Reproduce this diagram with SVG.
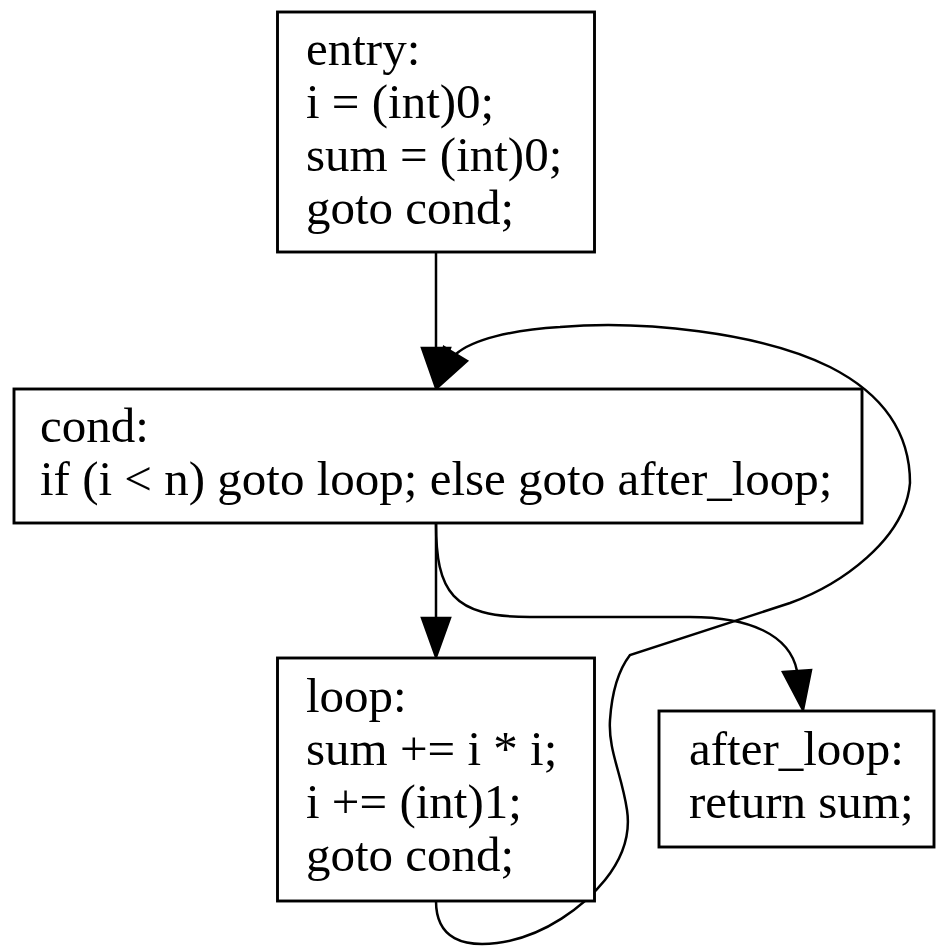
<svg xmlns="http://www.w3.org/2000/svg" width="936" height="947" viewBox="0 0 936 947">
<style>
.box{fill:#fff;stroke:#000;stroke-width:2.9}
.t{font-family:"Liberation Serif","Times New Roman",serif;font-size:49px;fill:#000}
.e{fill:none;stroke:#000;stroke-width:2.5}
.ah{fill:#000;stroke:#000;stroke-width:2.5;stroke-linejoin:miter}
</style>
<rect width="936" height="947" fill="#fff"/>
<g id="edges">
<path class="e" d="M436,252 L436,348"/>
<polygon class="ah" points="422,348 450,348 436,388"/>
<path class="e" d="M436,523 L436,618"/>
<polygon class="ah" points="422,618 450,618 436,657"/>
<path class="e" d="M436,523 C436,592 452,617 530,617 L690,617 C750,617 790,635 797,671"/>
<polygon class="ah" points="783,672 811,670 803,710"/>
<path class="e" d="M436,901 C436,940 465,947 497,943 C545,937 585,905 605,880 C625,855 630,830 627,810 C622,775 608,750 610,720 C612,690 620,668 630,655 L790,603 C840,585 905,540 910,483 C910,435 885,395 830,367 C760,332 640,320 560,327 C510,330 472,340 456,354"/>
<polygon class="ah" points="444,347 467,361 437,388"/>
</g>
<g id="entry">
<rect class="box" x="277.5" y="12" width="317" height="240"/>
<text class="t" x="306" y="65">entry:</text>
<text class="t" x="306" y="118">i = (int)0;</text>
<text class="t" x="306" y="171">sum = (int)0;</text>
<text class="t" x="306" y="224">goto cond;</text>
</g>
<g id="cond">
<rect class="box" x="14" y="389" width="848" height="134"/>
<text class="t" x="40" y="442">cond:</text>
<text class="t" x="40" y="495">if (i &lt; n) goto loop; else goto after_loop;</text>
</g>
<g id="loop">
<rect class="box" x="277.5" y="658" width="317" height="243"/>
<text class="t" x="306" y="712">loop:</text>
<text class="t" x="306" y="765">sum += i * i;</text>
<text class="t" x="306" y="818">i += (int)1;</text>
<text class="t" x="306" y="871">goto cond;</text>
</g>
<g id="after_loop">
<rect class="box" x="659" y="711" width="275" height="136"/>
<text class="t" x="689" y="765">after_loop:</text>
<text class="t" x="689" y="818">return sum;</text>
</g>
</svg>
